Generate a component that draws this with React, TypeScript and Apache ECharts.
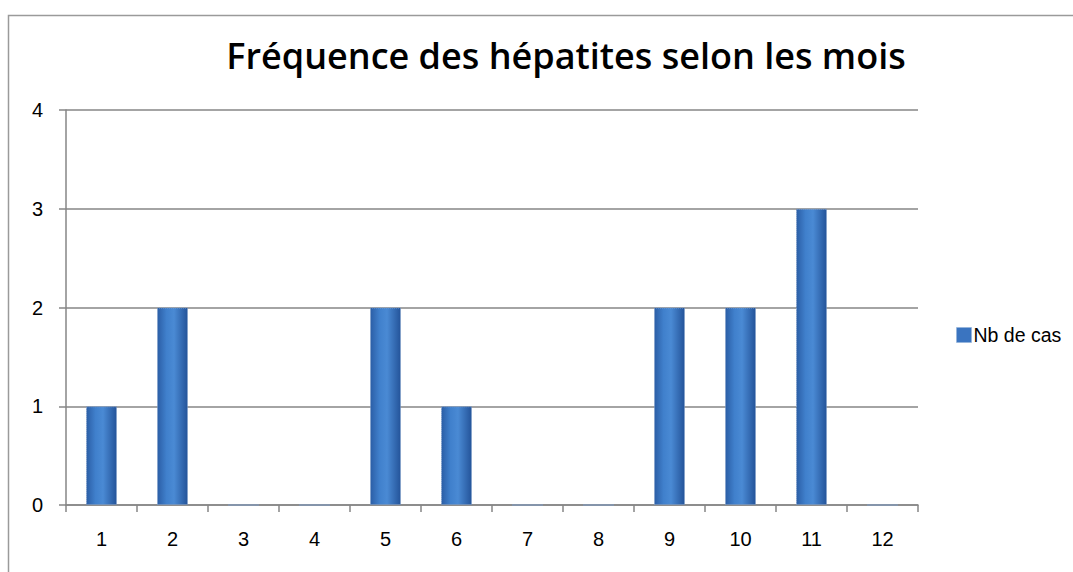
import React, { useEffect, useRef } from "react";
import * as echarts from "echarts";

const titleText = "Fréquence des hépatites selon les mois";
const categories = ["1", "2", "3", "4", "5", "6", "7", "8", "9", "10", "11", "12"];
const seriesName = "Nb de cas";
const values = [1, 2, 0, 0, 2, 1, 0, 0, 2, 2, 3, 0];

export default function App() {
  const ref = useRef<HTMLDivElement>(null);
  useEffect(() => {
    const chart = echarts.init(ref.current!, null, { renderer: "svg" });
    const barColor = new echarts.graphic.LinearGradient(0, 0, 1, 0, [
      { offset: 0, color: "#2b5ea6" },
      { offset: 0.3, color: "#4080cc" },
      { offset: 0.55, color: "#4a8ad4" },
      { offset: 1, color: "#24549a" },
    ]);
    chart.setOption({
      animation: false,
      backgroundColor: "#ffffff",
      textStyle: { fontFamily: "Liberation Sans, Arial, sans-serif" },
      title: {
        text: titleText,
        left: 561,
        textAlign: "center",
        top: 32,
        textStyle: { fontSize: 36, fontWeight: 600, color: "#000", fontFamily: "Open Sans, sans-serif" },
      },
      legend: {
        left: 951,
        top: 320,
        orient: "vertical",
        itemWidth: 15,
        itemHeight: 15,
        itemGap: 4,
        icon: "rect",
        textStyle: { fontSize: 19.5, lineHeight: 20, color: "#000", padding: [0, 0, 0, -3] },
        data: [{ name: seriesName, itemStyle: { color: "#3a74c0", borderColor: "#8fb0d8", borderWidth: 1, borderType: "dotted" } }],
      },
      grid: { left: 66, top: 110, width: 852, height: 395, containLabel: false },
      xAxis: {
        type: "category",
        data: categories,
        axisLine: { lineStyle: { color: "#868686", width: 1.5 } },
        axisTick: { show: true, length: 7, lineStyle: { color: "#868686", width: 1.5 } },
        axisLabel: { fontSize: 20, color: "#000", margin: 24 },
      },
      yAxis: {
        type: "value",
        min: 0,
        max: 4,
        interval: 1,
        axisLine: { show: true, lineStyle: { color: "#868686", width: 1.5 } },
        axisTick: { show: true, length: 7, lineStyle: { color: "#868686", width: 1.5 } },
        axisLabel: { fontSize: 20, color: "#000", margin: 23 },
        splitLine: { lineStyle: { color: "#868686", width: 1.5 } },
      },
      series: [
        {
          name: seriesName,
          type: "bar",
          data: values,
          barWidth: 31,
          itemStyle: { color: barColor, borderColor: "#7d9cc8", borderWidth: 1, borderType: "dotted" },
        },
      ],
      graphic: [
        {
          type: "rect",
          shape: { x: 8.5, y: 15.5, width: 1100, height: 600 },
          style: { fill: "none", stroke: "#9a9a9a", lineWidth: 1.5 },
          silent: true,
        },
      ],
    });
    return () => chart.dispose();
  }, []);
  return <div ref={ref} style={{ position: "fixed", left: 0, top: 0, width: 1073, height: 572 }} />;
}
